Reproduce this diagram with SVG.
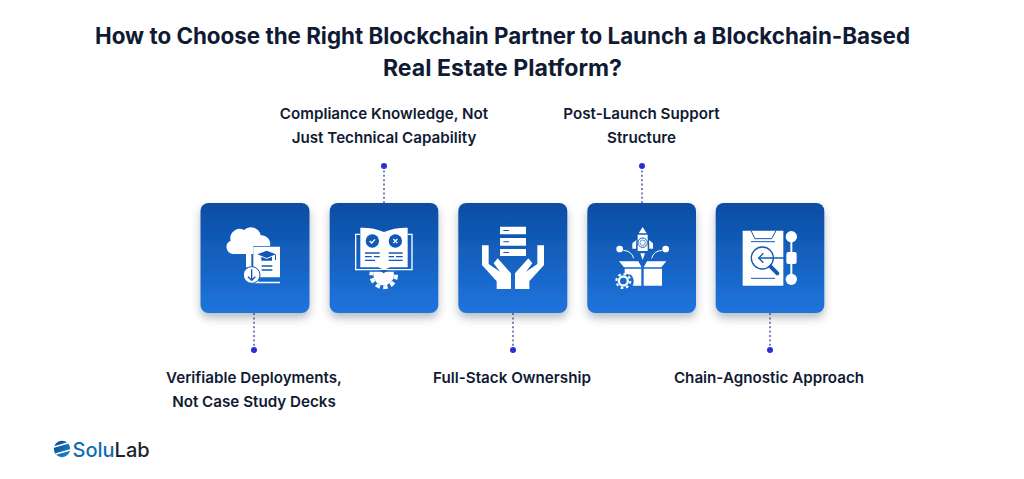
<svg xmlns="http://www.w3.org/2000/svg" width="1024" height="479" viewBox="0 0 1024 479">
<style>
text{font-family:"Inter","Liberation Sans",sans-serif;fill:#101b33;text-anchor:middle}
.t{font-size:22.500px;font-weight:700}
.l{font-size:15.200px;font-weight:600}
.card{fill:url(#g);filter:url(#s)}
.w{fill:#fff}
.b{fill:#1259b5}
.ws{fill:none;stroke:#fff;stroke-width:5;stroke-linecap:round}
.bs{fill:none;stroke:#1259b5;stroke-width:4}
.conn{stroke:#3a3a9c;stroke-width:1.3;stroke-dasharray:2 2.4;fill:none}
.dot{fill:#2c2fd0}
</style>
<defs>
<linearGradient id="g" x1="0" y1="0" x2="0" y2="1"><stop offset="0" stop-color="#0a4da2"/><stop offset="1" stop-color="#1f75dd"/></linearGradient>
<filter id="s" x="-20%" y="-20%" width="140%" height="150%"><feDropShadow dx="0" dy="5" stdDeviation="4" flood-color="#33404f" flood-opacity=".35"/></filter>
<linearGradient id="lg" x1="0" y1="0" x2="1" y2="1"><stop offset="0" stop-color="#0e3f86"/><stop offset="1" stop-color="#1c8fd8"/></linearGradient>
<clipPath id="gc"><rect x="520" y="245" width="120" height="60"/></clipPath>
</defs>
<rect width="1024" height="479" fill="#fff"/>
<g id="title">
<text class="t" x="502.500" y="44" textLength="815" lengthAdjust="spacingAndGlyphs">How to Choose the Right Blockchain Partner to Launch a Blockchain-Based</text>
<text class="t" x="502.500" y="76" textLength="239" lengthAdjust="spacingAndGlyphs">Real Estate Platform?</text>
</g>
<g id="connectors">
<path class="conn" d="M384 166V203M642 166V203M254 313V350M513 313V350M770 313V350"/>
<circle class="dot" cx="384" cy="166" r="3"/><circle class="dot" cx="642" cy="166" r="3"/>
<circle class="dot" cx="254" cy="350" r="3"/><circle class="dot" cx="513" cy="350" r="3"/><circle class="dot" cx="770" cy="350" r="3"/>
</g>
<g id="node-verifiable">
<rect class="card" x="200.500" y="203" width="109" height="110" rx="8"/>
<g transform="translate(190 190) scale(.33333)">
<path class="w" d="M128 192a21 21 0 0 1-6-40a28 28 0 0 1 40-32a30 30 0 0 1 50 16a26 26 0 0 1 28 32H190V192Z"/>
<path class="b" d="M166 166H276V286H166Z" opacity="0"/>
<path class="w" d="M176 170H270V262H205V275H270V280H190V170Z"/>
<path class="w" d="M168 232V182a14 14 0 0 1 8-12h8v62Z"/>
<path class="b" d="M230 182l28 11l-28 11l-28-11ZM214 200l16 7 16-7v12h-32Z M255 194h3v16h-3Z M215 226h32v4h-32ZM215 238h32v4h-32Z"/>
<circle cx="185" cy="255" r="25" class="w" stroke="#1259b5" stroke-width="3"/>
<path class="bs" d="M185 238V270M174 260l11 11 11-11" stroke-width="3"/>
</g>
</g>
<g id="node-compliance">
<rect class="card" x="329.700" y="203" width="108.600" height="110" rx="8"/>
<g transform="translate(190 190) scale(.33333)">
<g clip-path="url(#gc)"><circle cx="581" cy="255" r="31" class="w"/><circle cx="581" cy="255" r="37" fill="none" stroke="#fff" stroke-width="12" stroke-dasharray="13 10"/></g>
<path class="ws" style="stroke-linecap:butt;stroke-width:4" d="M510 133H497V239H666V133H653"/>
<path class="w" d="M511 113Q550 112 582 126Q615 112 653 113V232H600L582 240L565 232H511Z"/>
<circle class="b" cx="547" cy="153" r="20"/><circle class="b" cx="616" cy="153" r="20"/>
<path d="M539 153l6 6 10-11M610 147l12 12M622 147l-12 12" fill="none" stroke="#fff" stroke-width="4"/>
<path class="b" d="M525 187h44v4h-44ZM525 198h20v4h-20ZM552 198h17v4h-17ZM525 209h30v4h-30ZM596 187h42v4h-42ZM596 198h16v4h-16ZM618 198h20v4h-20ZM596 209h42v4h-42Z"/>
<path class="b" d="M568 241h26l-13 9Z"/>
</g>
</g>
<g id="node-fullstack">
<rect class="card" x="458.300" y="203" width="109" height="110" rx="8"/>
<g transform="translate(450 190) scale(.33333)">
<path class="w" d="M150 110H228V133H150ZM150 144H228V167H150ZM150 177H228V198H150Z"/>
<path class="b" d="M160 120h17v3h-17ZM160 154h17v3h-17ZM160 186h17v3h-17Z"/>
<path class="w" d="M96 166H116V222L150 245L131 220L143 205L183 250V297H140V274L96 225Z"/>
<path class="w" d="M282 166H262V222L228 245L247 220L235 205L195 250V297H238V274L282 225Z"/>
</g>
</g>
<g id="node-support">
<rect class="card" x="587.300" y="203" width="108.700" height="110" rx="8"/>
<g transform="translate(450 190) scale(.33333)">
<path class="w" d="M578 111L590 130H566ZM563 134H593V183H563ZM559 150L547 160V176H558ZM597 150L609 160V176H598ZM571 190H585L578 210Z"/>
<circle cx="578" cy="158" r="14" fill="#fff" stroke="#1259b5" stroke-width="3"/>
<circle cx="578" cy="158" r="8" fill="#fff" stroke="#1259b5" stroke-width="2"/>
<circle class="w" cx="509" cy="177" r="10"/><circle class="w" cx="647" cy="177" r="10"/>
<path d="M520 181Q545 183 551 205M636 181Q611 183 605 205" fill="none" stroke="#fff" stroke-width="3"/>
<path class="w" d="M507 214H565L575 232H522ZM649 214H591L581 232H634ZM524 236H574V287H548a30 30 0 0 0-5-33l-19-3ZM581 236H636V287H581Z"/>
<circle cx="520" cy="273" r="21" fill="none" stroke="#fff" stroke-width="6" stroke-dasharray="8 8.500"/>
<circle cx="520" cy="273" r="13.500" fill="none" stroke="#fff" stroke-width="7"/>
</g>
</g>
<g id="node-chain">
<rect class="card" x="715.700" y="203" width="108.600" height="110" rx="8"/>
<g transform="translate(700 190) scale(.33333)">
<path class="w" d="M128 122H250V287H128Z"/>
<path d="M153 122L165 146H215L228 122" fill="none" stroke="#1259b5" stroke-width="3"/>
<path d="M153 155H225M153 265H225" stroke="#1259b5" stroke-width="3"/>
<circle cx="187" cy="204" r="33" fill="none" stroke="#1259b5" stroke-width="4"/>
<path class="bs" d="M176 204H262M190 190L176 204L190 218"/>
<path d="M212 230L232 250" stroke="#1259b5" stroke-width="12" stroke-linecap="round"/>
<path d="M274 140V268" stroke="#fff" stroke-width="6"/>
<circle class="w" cx="274" cy="140" r="17"/><circle class="w" cx="274" cy="268" r="17"/>
<rect class="w" x="259" y="186" width="31" height="36" rx="6"/>
</g>
</g>
<g id="label-compliance"><text class="l" x="384" y="119">Compliance Knowledge, Not</text><text class="l" x="384" y="143">Just Technical Capability</text></g>
<g id="label-support"><text class="l" x="641.500" y="119">Post-Launch Support</text><text class="l" x="641.500" y="143">Structure</text></g>
<g id="label-verifiable"><text class="l" x="254" y="383">Verifiable Deployments,</text><text class="l" x="254" y="407">Not Case Study Decks</text></g>
<g id="label-fullstack"><text class="l" x="512" y="383">Full-Stack Ownership</text></g>
<g id="label-chain"><text class="l" x="769" y="383">Chain-Agnostic Approach</text></g>
<g id="logo">
<circle cx="62" cy="449" r="8.200" fill="url(#lg)"/>
<path d="M54 447L68 443M56 454L70 450" stroke="#fff" stroke-width="1.600"/>
<text x="72.500" y="456.500" style="text-anchor:start;font-size:20px;font-weight:500;fill:#0f6cb5">Solu<tspan fill="#1a2230">Lab</tspan></text>
</g>
</svg>
